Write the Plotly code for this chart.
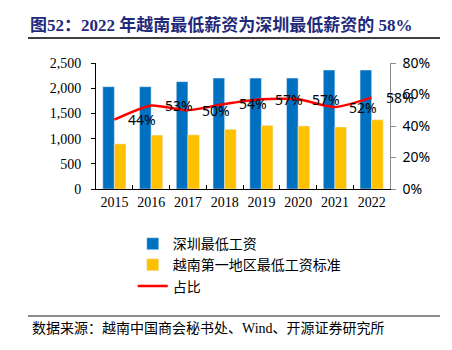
import plotly.graph_objects as go

years = ["2015", "2016", "2017", "2018", "2019", "2020", "2021", "2022"]
shenzhen = [2030, 2030, 2130, 2200, 2200, 2200, 2360, 2360]
vietnam = [895, 1070, 1075, 1185, 1262, 1250, 1230, 1372]
ratio = [0.44, 0.53, 0.50, 0.54, 0.57, 0.57, 0.52, 0.58]

serif = "Liberation Serif, Times New Roman, Noto Sans CJK SC"
sans = "Noto Sans, DejaVu Sans, sans-serif"
cjk = "Liberation Serif, Noto Sans CJK SC"

fig = go.Figure()
fig.add_trace(go.Bar(x=years, y=shenzhen, name="深圳最低工资", marker_color="#0070C0",
                     legendgroup="a"))
fig.add_trace(go.Bar(x=years, y=vietnam, name="越南第一地区最低工资标准", marker_color="#FFC000",
                     legendgroup="b"))
fig.add_trace(go.Scatter(x=years, y=ratio, name="占比", mode="lines", yaxis="y2",
                         line=dict(color="#FF0000", width=2.5, shape="spline", smoothing=0.6),
                         legendgroup="c"))

for i, r in enumerate(ratio):
    fig.add_annotation(x=i, y=r, xref="x", yref="y2", text=f"{round(r*100)}%", showarrow=False,
                       xshift=28, font=dict(family=sans, size=14, color="#000"))

fig.update_layout(
    width=452, height=350,
    margin=dict(l=96, r=62, t=63, b=161),
    paper_bgcolor="white", plot_bgcolor="white",
    barmode="group", bargap=0.37, bargroupgap=0,
    showlegend=True,
    legend=dict(x=0.125, y=-0.31, xanchor="left", yanchor="top",
                font=dict(family=cjk, size=14, color="#000"),
                traceorder="grouped", tracegroupgap=0, itemwidth=30,
                bgcolor="rgba(0,0,0,0)"),
    xaxis=dict(type="category", range=[-0.5, 7.5], showgrid=False, showline=True,
               linecolor="#000", linewidth=1,
               ticks="inside", tickson="boundaries", ticklen=4, tickcolor="#000",
               tickangle=0,
               tickfont=dict(family=serif, size=14, color="#000")),
    yaxis=dict(range=[0, 2500], dtick=500, tickformat=",", showgrid=False, showline=True,
               linecolor="#000", linewidth=1, ticks="outside", ticklen=4, tickcolor="#000",
               zeroline=False, ticksuffix="  ",
               tickfont=dict(family=serif, size=14, color="#000")),
    yaxis2=dict(range=[0, 0.8], dtick=0.2, tickformat=".0%", overlaying="y", side="right",
                showgrid=False, showline=True, linecolor="#8c8c8c", linewidth=1,
                ticks="outside", ticklen=5, tickcolor="#8c8c8c", zeroline=False,
                tickprefix=" ",
                tickfont=dict(family=sans, size=14, color="#000")),
    title=dict(text="<b>图52：2022 年越南最低薪资为深圳最低薪资的 58%</b>",
               x=30/452, xanchor="left", xref="container",
               y=1-25/350, yanchor="middle", yref="container",
               font=dict(family=cjk, size=17, color="#1F2A7A")),
)

fig.add_shape(type="line", xref="paper", yref="paper",
              x0=(28-96)/294, x1=(440-96)/294, y0=(189-38)/126, y1=(189-38)/126,
              line=dict(color="#000", width=1.5))
fig.add_shape(type="line", xref="paper", yref="paper",
              x0=(28-96)/294, x1=(440-96)/294, y0=(189-316)/126, y1=(189-316)/126,
              line=dict(color="#8c8c8c", width=2))
fig.add_annotation(text="数据来源：越南中国商会秘书处、Wind、开源证券研究所", xref="paper", yref="paper",
                   x=(30-96)/294, y=(189-328)/126, xanchor="left", yanchor="middle",
                   showarrow=False, font=dict(family=cjk, size=14, color="#000"))

fig.write_html("out.html")
